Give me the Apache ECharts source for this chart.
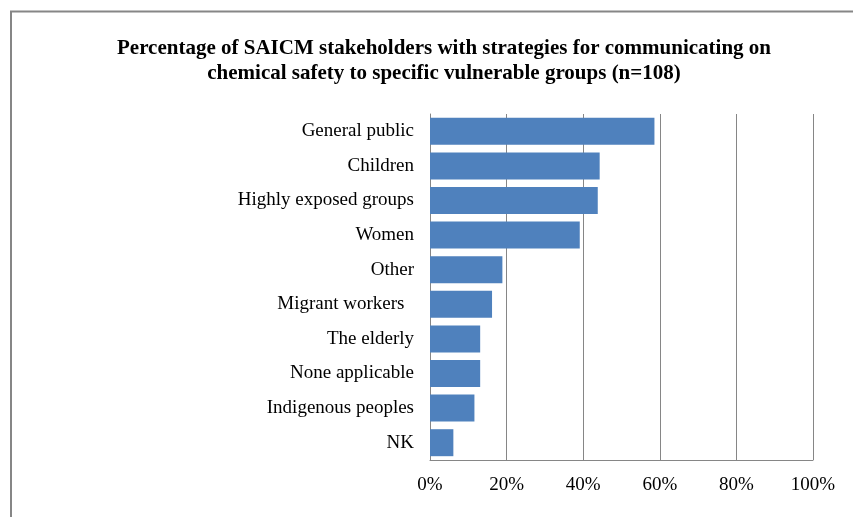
<!DOCTYPE html>
<html>
<head>
<meta charset="utf-8">
<script src="https://cdn.jsdelivr.net/npm/echarts@6/dist/echarts.min.js"></script>
<style>
  html, body { margin: 0; padding: 0; background: #ffffff; }
  #chart { width: 853px; height: 517px; }
</style>
</head>
<body>
<div id="chart"></div>
<script>
// Stakeholder groups, listed top to bottom
const categories = [
  'General public',
  'Children',
  'Highly exposed groups',
  'Women',
  'Other',
  'Migrant workers  ',
  'The elderly',
  'None applicable',
  'Indigenous peoples',
  'NK'
];

// Share of stakeholders (%) with a communication strategy for each group
const shares = [58.6, 44.3, 43.8, 39.1, 18.9, 16.2, 13.1, 13.1, 11.6, 6.1];

// Value axis ticks (%)
const xTicks = [0, 20, 40, 60, 80, 100];

const titleLines = [
  'Percentage of SAICM stakeholders with strategies for communicating on',
  'chemical safety to specific vulnerable groups (n=108)'
];

const serif = '"Liberation Serif", "Times New Roman", serif';
const gray = '#868686';

const chart = echarts.init(document.getElementById('chart'), null, { renderer: 'canvas' });

chart.setOption({
  backgroundColor: '#ffffff',
  animation: false,
  title: {
    text: titleLines.join('\n'),
    left: 439,
    top: 31,
    textAlign: 'center',
    textStyle: {
      fontFamily: serif,
      fontWeight: 'bold',
      fontSize: 21,
      lineHeight: 25,
      color: '#000000'
    }
  },
  graphic: [
    {
      type: 'polyline',
      shape: { points: [[11, 530], [11, 11.5], [870, 11.5]] },
      style: { stroke: gray, lineWidth: 2, fill: null },
      silent: true
    }
  ],
  grid: {
    left: 430,
    right: 40,
    top: 114,
    bottom: 57,
    containLabel: false
  },
  xAxis: {
    type: 'value',
    min: xTicks[0],
    max: xTicks[xTicks.length - 1],
    interval: xTicks[1] - xTicks[0],
    axisLine: { show: true, lineStyle: { color: gray, width: 1 } },
    axisTick: { show: false },
    axisLabel: {
      formatter: '{value}%',
      fontFamily: serif,
      fontSize: 19,
      color: '#000000',
      margin: 16
    },
    splitLine: { show: true, lineStyle: { color: gray, width: 1 } }
  },
  yAxis: {
    type: 'category',
    data: categories,
    inverse: true,
    axisLine: { show: true, lineStyle: { color: gray, width: 1 } },
    axisTick: { show: false },
    axisLabel: {
      fontFamily: serif,
      fontSize: 19,
      color: '#000000',
      margin: 16
    }
  },
  series: [
    {
      type: 'bar',
      data: shares,
      barCategoryGap: '22%',
      itemStyle: { color: '#4f81bd' },
      silent: true
    }
  ]
});
</script>
</body>
</html>
